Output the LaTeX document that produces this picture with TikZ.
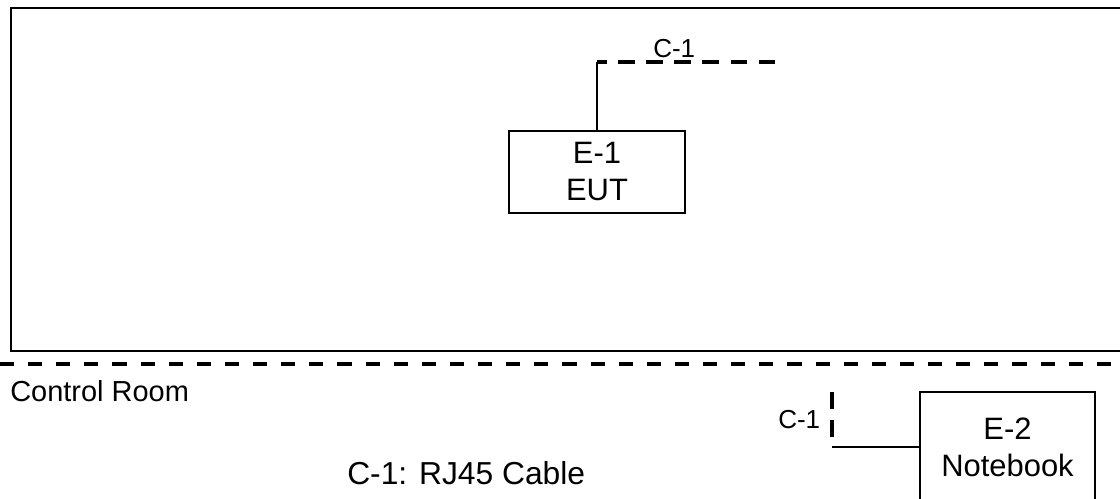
\documentclass[tikz,border=0pt]{standalone}
\usepackage{fontspec}
\setmainfont{Liberation Sans}
\tikzset{
  unitBox/.style={rectangle,draw,line width=1.7pt,align=center,inner sep=0pt,font=\fontsize{22}{26.3}\selectfont},
  plainText/.style={inner sep=0pt,font=\fontsize{20.6}{24}\selectfont},
  cableTag/.style={inner sep=0pt,font=\fontsize{18.5}{22}\selectfont},
  cableDash/.style={line width=2.2pt,dash pattern=on 12pt off 8pt},
  roomDash/.style={line width=2.3pt,dash pattern=on 10pt off 10pt}
}
\begin{document}
\begin{tikzpicture}[x=0.025cm,y=-0.025cm]
  \useasboundingbox (0,0) rectangle (1120,499);
  \clip (0,0) rectangle (1120,499);
  % test room and control room border
  \draw[line width=1.7pt] (11,8) rectangle (1140,351);
  \draw[roomDash] (0,364) -- (1120,364);
  \node[plainText,anchor=base west] (room) at (10,401) {Control Room};
  \node[plainText,font=\fontsize{22.6}{26}\selectfont,anchor=base west] (legend) at (347,484) {C-1: RJ45 Cable};
  % equipment
  \node[unitBox,minimum width=4.4cm,minimum height=2.05cm] (e1) at (597,172) {E-1\\EUT};
  \node[unitBox,minimum width=4.375cm,minimum height=2.75cm] (e2) at (1007.5,447) {E-2\\Notebook};
  % cables
  \coordinate (c1a) at (597,62);
  \coordinate (c1b) at (775,62);
  \draw[line width=1.7pt] (e1.north) -- (c1a);
  \draw[cableDash,dash phase=5pt] (c1a) -- (c1b);
  \node[cableTag,anchor=base west] (c1top) at (653,58) {C-1};
  \coordinate (c2a) at (832,447);
  \coordinate (c2b) at (832,392);
  \draw[line width=1.7pt] (e2.west) -- (c2a);
  \draw[cableDash] (c2b) -- (c2a);
  \node[cableTag,anchor=base west] (c1low) at (778,428) {C-1};
\end{tikzpicture}
\end{document}
